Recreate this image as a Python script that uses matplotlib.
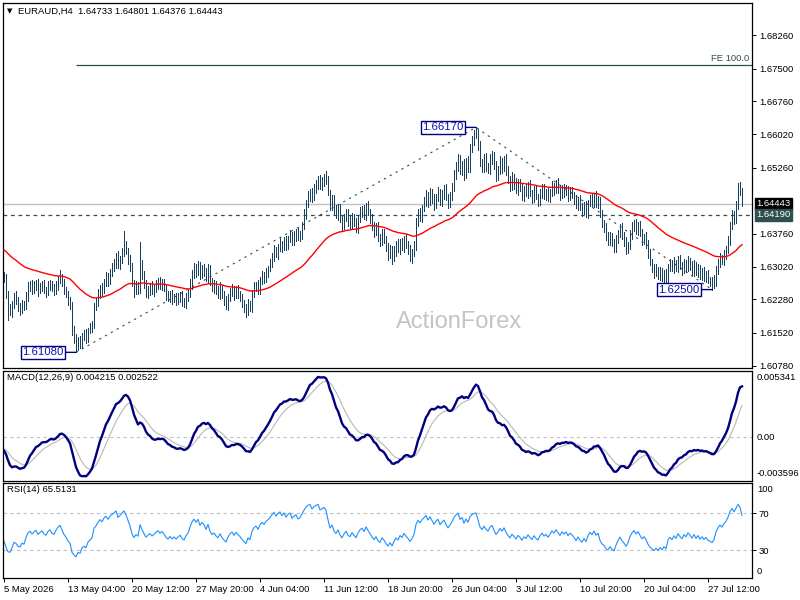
import numpy as np
import matplotlib.pyplot as plt
import matplotlib.transforms as mtrans

plt.rcParams['font.family'] = ['Liberation Sans', 'DejaVu Sans']

# ---- data (prices in pips above 1.6000) ----
header = "EURAUD,H4  1.64733 1.64801 1.64376 1.64443"
macd_header = "MACD(12,26,9) 0.004215 0.002522"
rsi_header = "RSI(14) 65.5131"

open_first = 282
close_pips = [
    275, 240, 205, 200, 215, 235, 228, 210, 205, 218,
    212, 235, 255, 262, 250, 258, 265, 248, 256, 262,
    250, 245, 258, 264, 252, 248, 262, 272, 280, 266,
    250, 240, 225, 215, 160, 140, 122, 135, 128, 145,
    150, 140, 158, 165, 172, 210, 222, 240, 255, 248,
    268, 280, 270, 290, 300, 310, 325, 305, 318, 335,
    350, 338, 320, 300, 265, 245, 258, 250, 310, 285,
    262, 240, 250, 258, 245, 252, 262, 270, 258, 266,
    255, 238, 230, 240, 228, 235, 225, 232, 238, 225,
    218, 232, 240, 262, 285, 300, 290, 305, 285, 300,
    292, 275, 298, 270, 255, 262, 248, 240, 255, 238,
    225, 215, 232, 245, 252, 238, 250, 240, 232, 220,
    210, 200, 218, 210, 240, 255, 262, 250, 270, 282,
    275, 290, 298, 310, 325, 340, 330, 345, 355, 345,
    362, 350, 365, 375, 360, 372, 380, 368, 375, 395,
    420, 445, 462, 470, 458, 478, 490, 500, 485, 495,
    505, 498, 470, 440, 455, 430, 418, 435, 410, 395,
    412, 425, 405, 398, 415, 402, 390, 410, 425, 432,
    418, 440, 425, 410, 395, 380, 392, 370, 360, 378,
    365, 345, 330, 342, 322, 338, 352, 340, 358, 348,
    365, 352, 340, 325, 335, 350, 400, 425, 415, 435,
    450, 465, 448, 470, 455, 440, 460, 472, 450, 465,
    478, 460, 445, 462, 480, 510, 530, 545, 520, 535,
    510, 540, 525, 570, 590, 600, 605, 575, 540, 525,
    548, 530, 520, 545, 555, 530, 505, 520, 540, 525,
    545, 520, 500, 485, 505, 490, 475, 492, 480, 462,
    478, 468, 485, 470, 458, 475, 460, 450, 468, 480,
    465, 472, 458, 470, 485, 475, 490, 478, 465, 480,
    470, 478, 462, 472, 465, 455, 440, 452, 438, 428,
    440, 425, 445, 458, 448, 462, 445, 452, 420, 400,
    392, 370, 362, 372, 355, 345, 362, 378, 390, 372,
    360, 340, 352, 375, 390, 400, 385, 395, 378, 362,
    370, 355, 330, 312, 300, 288, 295, 282, 290, 276,
    285, 272, 300, 310, 298, 312, 300, 318, 305, 295,
    310, 300, 315, 305, 292, 305, 288, 298, 282, 290,
    278, 285, 272, 268, 262, 270, 295, 310, 322, 315,
    330, 340, 360, 395, 420, 410, 440, 482, 473, 444,
]
wick_up = [
    8, 10, 6, 12, 9, 7, 11, 5, 9, 8,
    6, 10, 12, 7, 9, 11, 6, 8, 10, 7,
    9, 5, 11, 8, 6, 10, 7, 9, 14, 6,
    8, 5, 7, 9, 6, 8, 10, 7, 9, 6,
    8, 11, 6, 9, 7, 10, 8, 12, 6, 9,
    7, 10, 8, 6, 11, 9, 7, 12, 8, 10,
    33, 9, 6, 8, 10, 7, 12, 9, 47, 8,
    6, 10, 9, 7, 11, 8, 10, 6, 9, 7,
    8, 5, 9, 7, 10, 6, 8, 11, 7, 9,
    6, 10, 8, 12, 9, 11, 7, 10, 8, 6,
    9, 7, 11, 8, 6, 10, 7, 9, 12, 6,
    8, 10, 7, 9, 11, 6, 8, 10, 7, 9,
    6, 8, 10, 7, 9, 12, 6, 10, 8, 11,
    7, 9, 6, 10, 8, 11, 7, 9, 12, 6,
    8, 10, 7, 9, 6, 11, 8, 10, 7, 9,
    12, 8, 10, 7, 9, 11, 8, 6, 10, 9,
    7, 13, 9, 6, 10, 8, 11, 7, 9, 6,
    10, 8, 7, 11, 9, 6, 10, 8, 12, 7,
    9, 6, 10, 8, 11, 7, 9, 12, 6, 10,
    8, 7, 11, 9, 6, 10, 8, 12, 7, 9,
    6, 10, 8, 11, 7, 9, 12, 8, 10, 7,
    9, 11, 6, 10, 8, 12, 7, 9, 6, 10,
    8, 11, 7, 9, 12, 10, 8, 11, 9, 7,
    10, 8, 12, 9, 7, 10, 13, 8, 11, 6,
    9, 10, 7, 11, 8, 6, 10, 9, 12, 7,
    8, 11, 9, 6, 10, 7, 12, 8, 9, 11,
    7, 10, 8, 12, 6, 9, 11, 7, 10, 8,
    9, 6, 11, 8, 10, 7, 9, 12, 8, 6,
    10, 8, 7, 11, 9, 6, 10, 8, 12, 7,
    9, 11, 8, 6, 10, 7, 12, 9, 8, 10,
    7, 9, 11, 8, 6, 10, 12, 7, 9, 11,
    8, 10, 6, 9, 12, 7, 10, 8, 11, 9,
    6, 10, 8, 11, 7, 9, 12, 6, 10, 8,
    9, 11, 7, 10, 8, 12, 6, 9, 11, 7,
    10, 8, 12, 6, 9, 11, 7, 10, 8, 9,
    11, 7, 9, 6, 10, 12, 8, 9, 11, 7,
    10, 8, 12, 9, 11, 7, 10, 9, 12, 7,
]
wick_dn = [
    7, 9, 24, 8, 11, 6, 10, 8, 12, 7,
    9, 6, 10, 8, 11, 7, 9, 12, 6, 10,
    8, 11, 7, 9, 6, 10, 8, 12, 7, 9,
    10, 6, 9, 8, 12, 10, 14, 8, 11, 7,
    9, 10, 8, 6, 11, 9, 7, 10, 8, 12,
    6, 9, 11, 7, 10, 8, 12, 6, 9, 7,
    10, 8, 11, 9, 7, 12, 6, 10, 8, 11,
    9, 7, 10, 12, 6, 9, 8, 11, 7, 10,
    8, 12, 6, 9, 11, 7, 10, 8, 9, 12,
    7, 10, 8, 6, 11, 9, 12, 7, 10, 8,
    11, 6, 9, 10, 8, 12, 7, 9, 11, 6,
    10, 8, 12, 7, 9, 11, 6, 10, 8, 9,
    11, 12, 7, 9, 10, 6, 8, 11, 9, 7,
    10, 8, 12, 6, 9, 11, 7, 10, 8, 9,
    6, 11, 9, 7, 10, 8, 12, 6, 9, 11,
    7, 10, 8, 11, 9, 6, 10, 12, 7, 9,
    11, 8, 6, 10, 9, 12, 7, 10, 8, 11,
    9, 6, 10, 8, 12, 7, 9, 11, 6, 10,
    8, 11, 7, 9, 10, 12, 6, 9, 11, 8,
    10, 7, 12, 9, 14, 8, 11, 6, 10, 9,
    12, 7, 9, 11, 15, 8, 10, 6, 9, 11,
    8, 10, 12, 7, 9, 11, 6, 10, 8, 12,
    9, 7, 11, 8, 10, 6, 9, 12, 8, 10,
    11, 7, 9, 10, 8, 12, 6, 9, 11, 8,
    10, 12, 7, 9, 11, 8, 10, 6, 9, 12,
    7, 10, 8, 11, 9, 12, 6, 10, 8, 9,
    11, 7, 10, 8, 12, 9, 6, 11, 8, 10,
    9, 12, 7, 10, 8, 11, 6, 9, 12, 8,
    10, 7, 11, 9, 8, 12, 6, 10, 9, 11,
    8, 10, 12, 7, 9, 11, 8, 10, 6, 9,
    11, 8, 10, 12, 7, 9, 11, 6, 10, 8,
    12, 9, 7, 10, 11, 8, 9, 12, 6, 10,
    8, 11, 9, 7, 10, 12, 8, 9, 11, 7,
    10, 8, 12, 9, 6, 11, 9, 10, 8, 12,
    7, 10, 9, 11, 8, 12, 6, 10, 9, 11,
    8, 10, 7, 9, 12, 8, 11, 9, 10, 7,
    9, 11, 8, 10, 7, 12, 9, 8, 10, 6,
]

# indicator starting states (values before the visible window)
ma_seed = 342
ema12_seed = 289
ema26_seed = 300
signal_seed = -10
rsi_gain_seed = 6.0
rsi_loss_seed = 8.6

swing_prices = [1.61080, 1.66170, 1.62500]
fe_level = 1.67590
support_level = 1.64190
bid_price = 1.64443

price_ticks = [1.68260, 1.67500, 1.66760, 1.66020, 1.65260,
               1.63760, 1.63020, 1.62280, 1.61520, 1.60780]
macd_labels = [0.005341, 0.00, -0.003596]
rsi_levels = [70, 30]
time_labels = ["5 May 2026", "13 May 04:00", "20 May 12:00", "27 May 20:00",
               "4 Jun 04:00", "11 Jun 12:00", "18 Jun 20:00", "26 Jun 04:00",
               "3 Jul 12:00", "10 Jul 20:00", "20 Jul 04:00", "27 Jul 12:00"]
label_step = 32

# ---- derived series ----
close = 1.6 + np.array(close_pips) / 1e4
prev = np.r_[1.6 + open_first / 1e4, close[:-1]]
high = np.maximum(prev, close) + np.array(wick_up) / 1e4
low = np.minimum(prev, close) - np.array(wick_dn) / 1e4
idx = np.arange(len(close))


def ema(values, period, seed):
    a = 2.0 / (period + 1)
    out = np.empty(len(values))
    s = seed
    for k, v in enumerate(values):
        s = s + a * (v - s)
        out[k] = s
    return out


ma = ema(close, 55, 1.6 + ma_seed / 1e4)
macd = ema(close, 12, 1.6 + ema12_seed / 1e4) - ema(close, 26, 1.6 + ema26_seed / 1e4)
signal = ema(macd, 9, signal_seed / 1e4)

g, l = rsi_gain_seed / 1e4, rsi_loss_seed / 1e4
rsi = []
for d in close - prev:
    g = (g * 13 + max(d, 0)) / 14
    l = (l * 13 + max(-d, 0)) / 14
    rsi.append(100 - 100 / (1 + g / l))

# swing points: lowest low, highest high, lowest low after that high
k_low = int(np.argmin(low))
k_high = int(np.argmax(high))
k_low2 = k_high + int(np.argmin(low[k_high:]))
k_pts = [k_low, k_high, k_low2]

# ---- layout ----
W, H = 800, 600
fig = plt.figure(figsize=(8, 6), dpi=100, facecolor='white')


def box(x0, y0, x1, y1):
    return [x0 / W, 1 - y1 / H, (x1 - x0) / W, (y1 - y0) / H]


ax = fig.add_axes(box(3, 3, 752, 368))
axm = fig.add_axes(box(3, 371, 752, 481))
axr = fig.add_axes(box(3, 483, 752, 578))

fs = 6.8
slate = '#2f4f4f'
for a in (ax, axm, axr):
    a.set_xlim(-0.5, 374)
    for sp in a.spines.values():
        sp.set_color('black')
        sp.set_linewidth(0.9)
    a.tick_params(axis='x', bottom=False, labelbottom=False)
    a.yaxis.tick_right()
    a.tick_params(axis='y', length=3, width=0.7, labelsize=fs, pad=2, colors='black')

# main panel
ax.set_ylim(1.60726, 1.68984)
ax.vlines(idx, low, high, color='#17415f', lw=0.5, antialiased=False, zorder=3)
ax.plot(idx, ma, color='red', lw=1.0, zorder=4)

ax.axhline(bid_price, color='#c0c0c0', lw=1.0, zorder=2)
ax.axhline(support_level, color=slate, lw=0.9, ls=(0, (3, 3)), zorder=2)

ax.plot(k_pts, swing_prices, color=slate, lw=0.8, ls=(0, (2, 4)), zorder=2)
ax.hlines(fe_level, k_low, 374, color=slate, lw=0.9, zorder=2)
blend = mtrans.blended_transform_factory(ax.transAxes, ax.transData)
ax.text(0.996, fe_level + 0.0003, "FE 100.0", transform=blend, ha='right', va='bottom',
        fontsize=fs, color=slate)

for k, v in zip(k_pts, swing_prices):
    ax.annotate(f"{v:.5f}", xy=(k, v), xytext=(-9, 0), textcoords='offset points',
                ha='right', va='center', fontsize=8.2, color='#1010b0', zorder=6,
                bbox=dict(boxstyle='square,pad=0.12', fc='white', ec='#000080', lw=1.0),
                arrowprops=dict(arrowstyle='-', color='#000080', lw=1.0,
                                shrinkA=0, shrinkB=0))

ax.text(0.609, 0.126, "ActionForex", transform=ax.transAxes, ha='center', va='center',
        fontsize=17, color='#c4c4c4', zorder=1)

ax.set_yticks(price_ticks)
ax.set_yticklabels([f"{t:.5f}" for t in price_ticks])

ax.text(1.006, bid_price, f"{bid_price:.5f}", transform=blend, ha='left', va='center',
        fontsize=fs, color='white', zorder=7, clip_on=False,
        bbox=dict(boxstyle='square,pad=0.18', fc='black', ec='black'))
ax.text(1.006, support_level, f"{support_level:.5f}", transform=blend, ha='left',
        va='center', fontsize=fs, color='white', zorder=7, clip_on=False,
        bbox=dict(boxstyle='square,pad=0.18', fc=slate, ec=slate))

# MACD panel
axm.set_ylim(macd_labels[2], macd_labels[0])
axm.axhline(0, color='#c0c0c0', lw=0.8, ls=(0, (3, 3)))
axm.plot(idx, signal, color='#b8b8b8', lw=0.8)
axm.plot(idx, macd, color='#000080', lw=1.7)
axm.set_yticks([])
for v, ypx in zip(macd_labels, [378, 437, 474]):
    fig.text(757 / W, 1 - ypx / H, f"{v:.6f}" if v != 0 else "0.00",
             fontsize=fs, va='center', ha='left')

# RSI panel
axr.set_ylim(0, 102.5)
for lv in rsi_levels:
    axr.axhline(lv, color='#c0c0c0', lw=0.8, ls=(0, (3, 3)))
axr.plot(idx, rsi, color='#1e90ff', lw=0.8)
axr.set_yticks(rsi_levels)
axr.set_yticklabels([str(v) for v in rsi_levels])
fig.text(757 / W, 1 - 490 / H, "100", fontsize=fs, va='center', ha='left')
fig.text(757 / W, 1 - 572 / H, "0", fontsize=fs, va='center', ha='left')

axr.set_xticks(np.arange(len(time_labels)) * label_step)
axr.set_xticklabels(time_labels, ha='left')
axr.tick_params(axis='x', bottom=True, labelbottom=True, length=3, width=0.7,
                labelsize=fs, pad=2)

# headers
fig.text(7 / W, 1 - 11 / H, "\u25bc", fontsize=5, va='center', family='DejaVu Sans')
fig.text(18 / W, 1 - 11 / H, header, fontsize=fs, va='center')
fig.text(7 / W, 1 - 378 / H, macd_header, fontsize=fs, va='center')
fig.text(7 / W, 1 - 490 / H, rsi_header, fontsize=fs, va='center')

fig.savefig('out.png', dpi=100, facecolor='white')
